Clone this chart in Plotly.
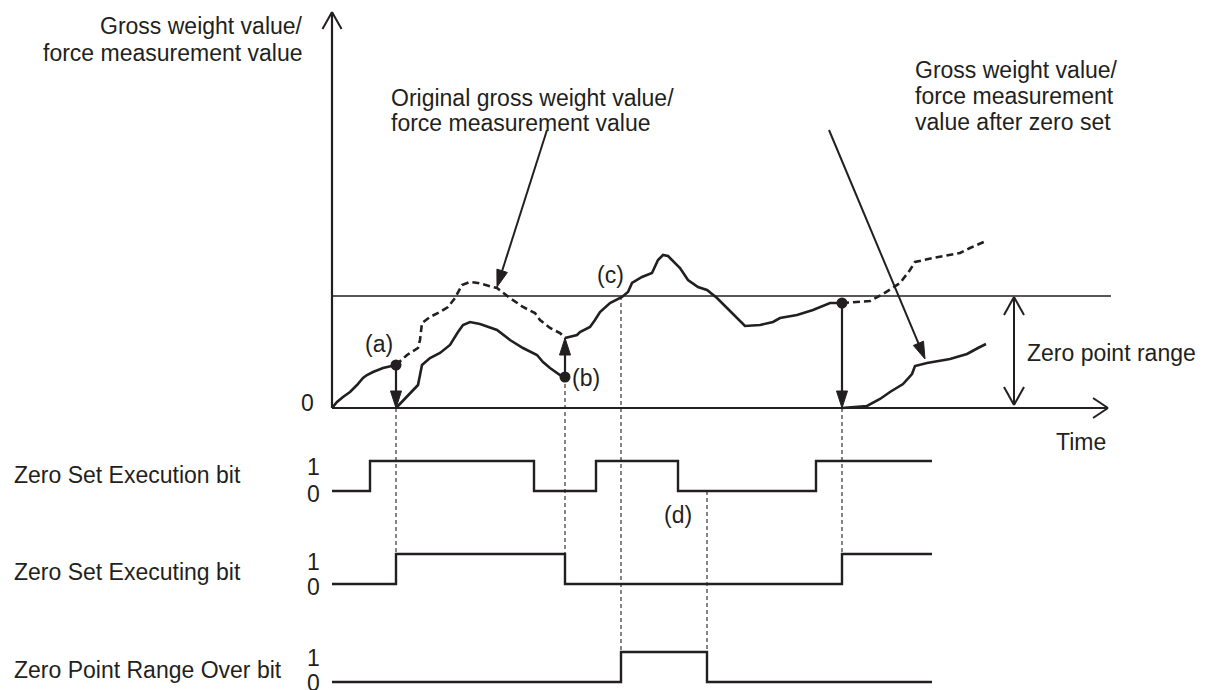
import math
import plotly.graph_objects as go

# ---------------- data (time units, value units) ----------------
# original value before zero set (a)
pre_t = [0, 5, 11, 18, 25, 31, 35, 41, 51, 64]
pre_v = [0, 6, 11, 16, 23, 30, 33, 36, 40, 43]
# original value between (a) and (b)  (dashed)
orig_ab_t = [64, 75, 86, 88, 90, 98, 108, 116, 123, 130, 138, 146, 165, 178, 191, 203, 208, 218, 228, 233]
orig_ab_v = [43, 53, 60, 68, 85, 91, 96, 101, 110, 123, 126, 125, 120, 110, 101, 95, 88, 80, 75, 70]
# value after zero set between (a) and (b)
zero_ab_t = [64, 75, 86, 90, 98, 108, 118, 126, 131, 138, 148, 165, 178, 191, 205, 211, 218, 228, 233]
zero_ab_v = [0, 11, 23, 43, 50, 55, 63, 76, 83, 86, 84, 78, 68, 60, 53, 46, 40, 33, 31]
# original value from (b) until the second zero set
mid_t = [233, 245, 248, 258, 263, 268, 278, 290, 296, 300, 310, 320, 326, 331, 336, 348, 356, 366,
         375, 385, 395, 405, 413, 428, 441, 448, 465, 481, 488, 498, 510]
mid_v = [70, 73, 76, 81, 88, 96, 105, 111, 116, 125, 131, 135, 148, 153, 152, 140, 128, 121,
         118, 110, 100, 90, 82, 83, 86, 90, 93, 98, 101, 105, 105]
# original value after second zero set (dashed)
orig_end_t = [510, 521, 538, 551, 568, 578, 583, 601, 628, 638, 654]
orig_end_v = [105, 106, 107, 114, 125, 138, 146, 150, 155, 160, 167]
# value after second zero set
zero_end_t = [510, 535, 548, 558, 571, 580, 583, 595, 618, 635, 646, 654]
zero_end_v = [0, 2, 9, 16, 24, 34, 42, 45, 49, 54, 60, 64]

zero_range = 112

# bit signals
exec_t = [0, 38, 202, 264, 346, 484, 600]
exec_s = [0, 1, 0, 1, 0, 1, 1]
executing_t = [0, 64, 233, 510, 600]
executing_s = [0, 1, 0, 1, 1]
over_t = [0, 289, 375, 600]
over_s = [0, 1, 0, 0]

bit_names = ["Zero Set Execution bit", "Zero Set Executing bit", "Zero Point Range Over bit"]

# ---------------- layout constants ----------------
INK = "#231f20"
FS = 23
FONT = dict(family="Liberation Sans, Arial, sans-serif", size=FS, color=INK)
ROW_BASE = [-83, -176, -274]
ROW_AMP = 30
NAME_OFF = [16, 12, 12]
ONE_OFF = [-6, -8, -6]
ZERO_OFF = [-3, -3, -1]
CURVE_W = 2.6

def row_y(r, s):
    return ROW_BASE[r] + s * ROW_AMP

fig = go.Figure()

def curve(t, v, dash=None):
    fig.add_trace(go.Scatter(x=t, y=v, mode="lines", hoverinfo="skip",
                             line=dict(color=INK, width=CURVE_W, dash=dash or "solid")))

curve(pre_t, pre_v)
curve(orig_ab_t, orig_ab_v, "7px,4px")
curve(zero_ab_t, zero_ab_v)
curve(mid_t, mid_v)
curve(orig_end_t, orig_end_v, "7px,4px")
curve(zero_end_t, zero_end_v)

for r, (tt, ss) in enumerate([(exec_t, exec_s), (executing_t, executing_s), (over_t, over_s)]):
    fig.add_trace(go.Scatter(x=tt, y=[row_y(r, s) for s in ss], mode="lines", line_shape="hv",
                             hoverinfo="skip", line=dict(color=INK, width=2.4)))

# zero set points
dot_t = [pre_t[-1], zero_ab_t[-1], mid_t[-1]]
dot_v = [pre_v[-1], zero_ab_v[-1], mid_v[-1]]
fig.add_trace(go.Scatter(x=dot_t, y=dot_v, mode="markers", hoverinfo="skip",
                         marker=dict(color=INK, size=11)))

def line(x0, y0, x1, y1, w=2, dash="solid"):
    fig.add_shape(type="line", x0=x0, y0=y0, x1=x1, y1=y1, xref="x", yref="y",
                  line=dict(color=INK, width=w, dash=dash))

def unit(x0, y0, x1, y1):
    dx, dy = x1 - x0, y1 - y0
    L = math.hypot(dx, dy)
    return dx / L, dy / L

def filled_arrow(x0, y0, x1, y1, w=2.2, hl=17, hw=5.5):
    ux, uy = unit(x0, y0, x1, y1)
    bx, by = x1 - ux * hl, y1 - uy * hl
    line(x0, y0, bx + ux * 2, by + uy * 2, w)
    px, py = -uy, ux
    path = (f"M {x1},{y1} L {bx + px * hw},{by + py * hw} "
            f"L {bx - px * hw},{by - py * hw} Z")
    fig.add_shape(type="path", path=path, xref="x", yref="y", fillcolor=INK,
                  line=dict(color=INK, width=1))

def open_head(x1, y1, ux, uy, hl=17, hw=9.5, w=2):
    bx, by = x1 - ux * hl, y1 - uy * hl
    px, py = -uy, ux
    line(bx + px * hw, by + py * hw, x1, y1, w)
    line(bx - px * hw, by - py * hw, x1, y1, w)

# axes
y_top = 396
x_end = 776
line(0, 0, 0, y_top, 2.2)
open_head(0, y_top, 0, 1)
line(0, 0, x_end, 0, 2.2)
open_head(x_end, 0, 1, 0, hl=15, hw=10)
# zero point range line and double arrow
line(0, zero_range, 779, zero_range, 1.3)
zr_t = 682
line(zr_t, 3, zr_t, zero_range - 1, 2)
open_head(zr_t, zero_range - 1, 0, 1, hl=18, hw=10)
open_head(zr_t, 3, 0, -1, hl=18, hw=10)

# zero set arrows
filled_arrow(pre_t[-1], pre_v[-1], pre_t[-1], 0)
filled_arrow(zero_ab_t[-1], zero_ab_v[-1], zero_ab_t[-1], orig_ab_v[-1])
filled_arrow(mid_t[-1], mid_v[-1], mid_t[-1], 0)

# label pointer arrows
filled_arrow(215, 278, 165, 121, w=2)
filled_arrow(497, 278, 593, 49, w=2)

# dashed guides
GD = dict(w=1.1, dash="4px,3px")
line(pre_t[-1], 0, pre_t[-1], row_y(1, 1), **GD)
line(zero_ab_t[-1], zero_ab_v[-1], zero_ab_t[-1], row_y(1, 1), **GD)
line(over_t[1], zero_range, over_t[1], row_y(2, 1), **GD)
line(over_t[2], row_y(0, 0), over_t[2], row_y(2, 1), **GD)
line(mid_t[-1], 0, mid_t[-1], row_y(1, 1), **GD)

# ---------------- texts ----------------
def text(x, y, s, xanchor="center"):
    fig.add_annotation(x=x, y=y, xref="x", yref="y", text=s, showarrow=False,
                       xanchor=xanchor, yanchor="middle", font=FONT)

text(-27, 382, "Gross weight value/", "right")
text(-27, 355, "force measurement value", "right")
text(57, 310, "Original gross weight value/", "left")
text(57, 285, "force measurement value", "left")
text(581, 338, "Gross weight value/", "left")
text(581, 312, "force measurement", "left")
text(581, 286, "value after zero set", "left")
text(-25, 5, "0")
text(47, 64, "(a)")
text(254, 30, "(b)")
text(278, 133, "(c)")
text(346, -107, "(d)")
text(693, 55, "Zero point range", "left")
text(776, -34, "Time", "right")
for r, name in enumerate(bit_names):
    text(-320, row_y(r, 0) + NAME_OFF[r], name, "left")
    text(-19, row_y(r, 1) + ONE_OFF[r], "1")
    text(-19, row_y(r, 0) + ZERO_OFF[r], "0")

# the page body has an 8 px margin: the figure covers screen px 8..1215 / 8..690
fig.update_layout(
    width=1207, height=682, margin=dict(l=0, r=0, t=0, b=0),
    paper_bgcolor="white", plot_bgcolor="white", showlegend=False,
    xaxis=dict(range=[-324, 883], visible=False, fixedrange=True),
    yaxis=dict(range=[-282, 400], visible=False, fixedrange=True),
)
fig.write_html("out.html")
